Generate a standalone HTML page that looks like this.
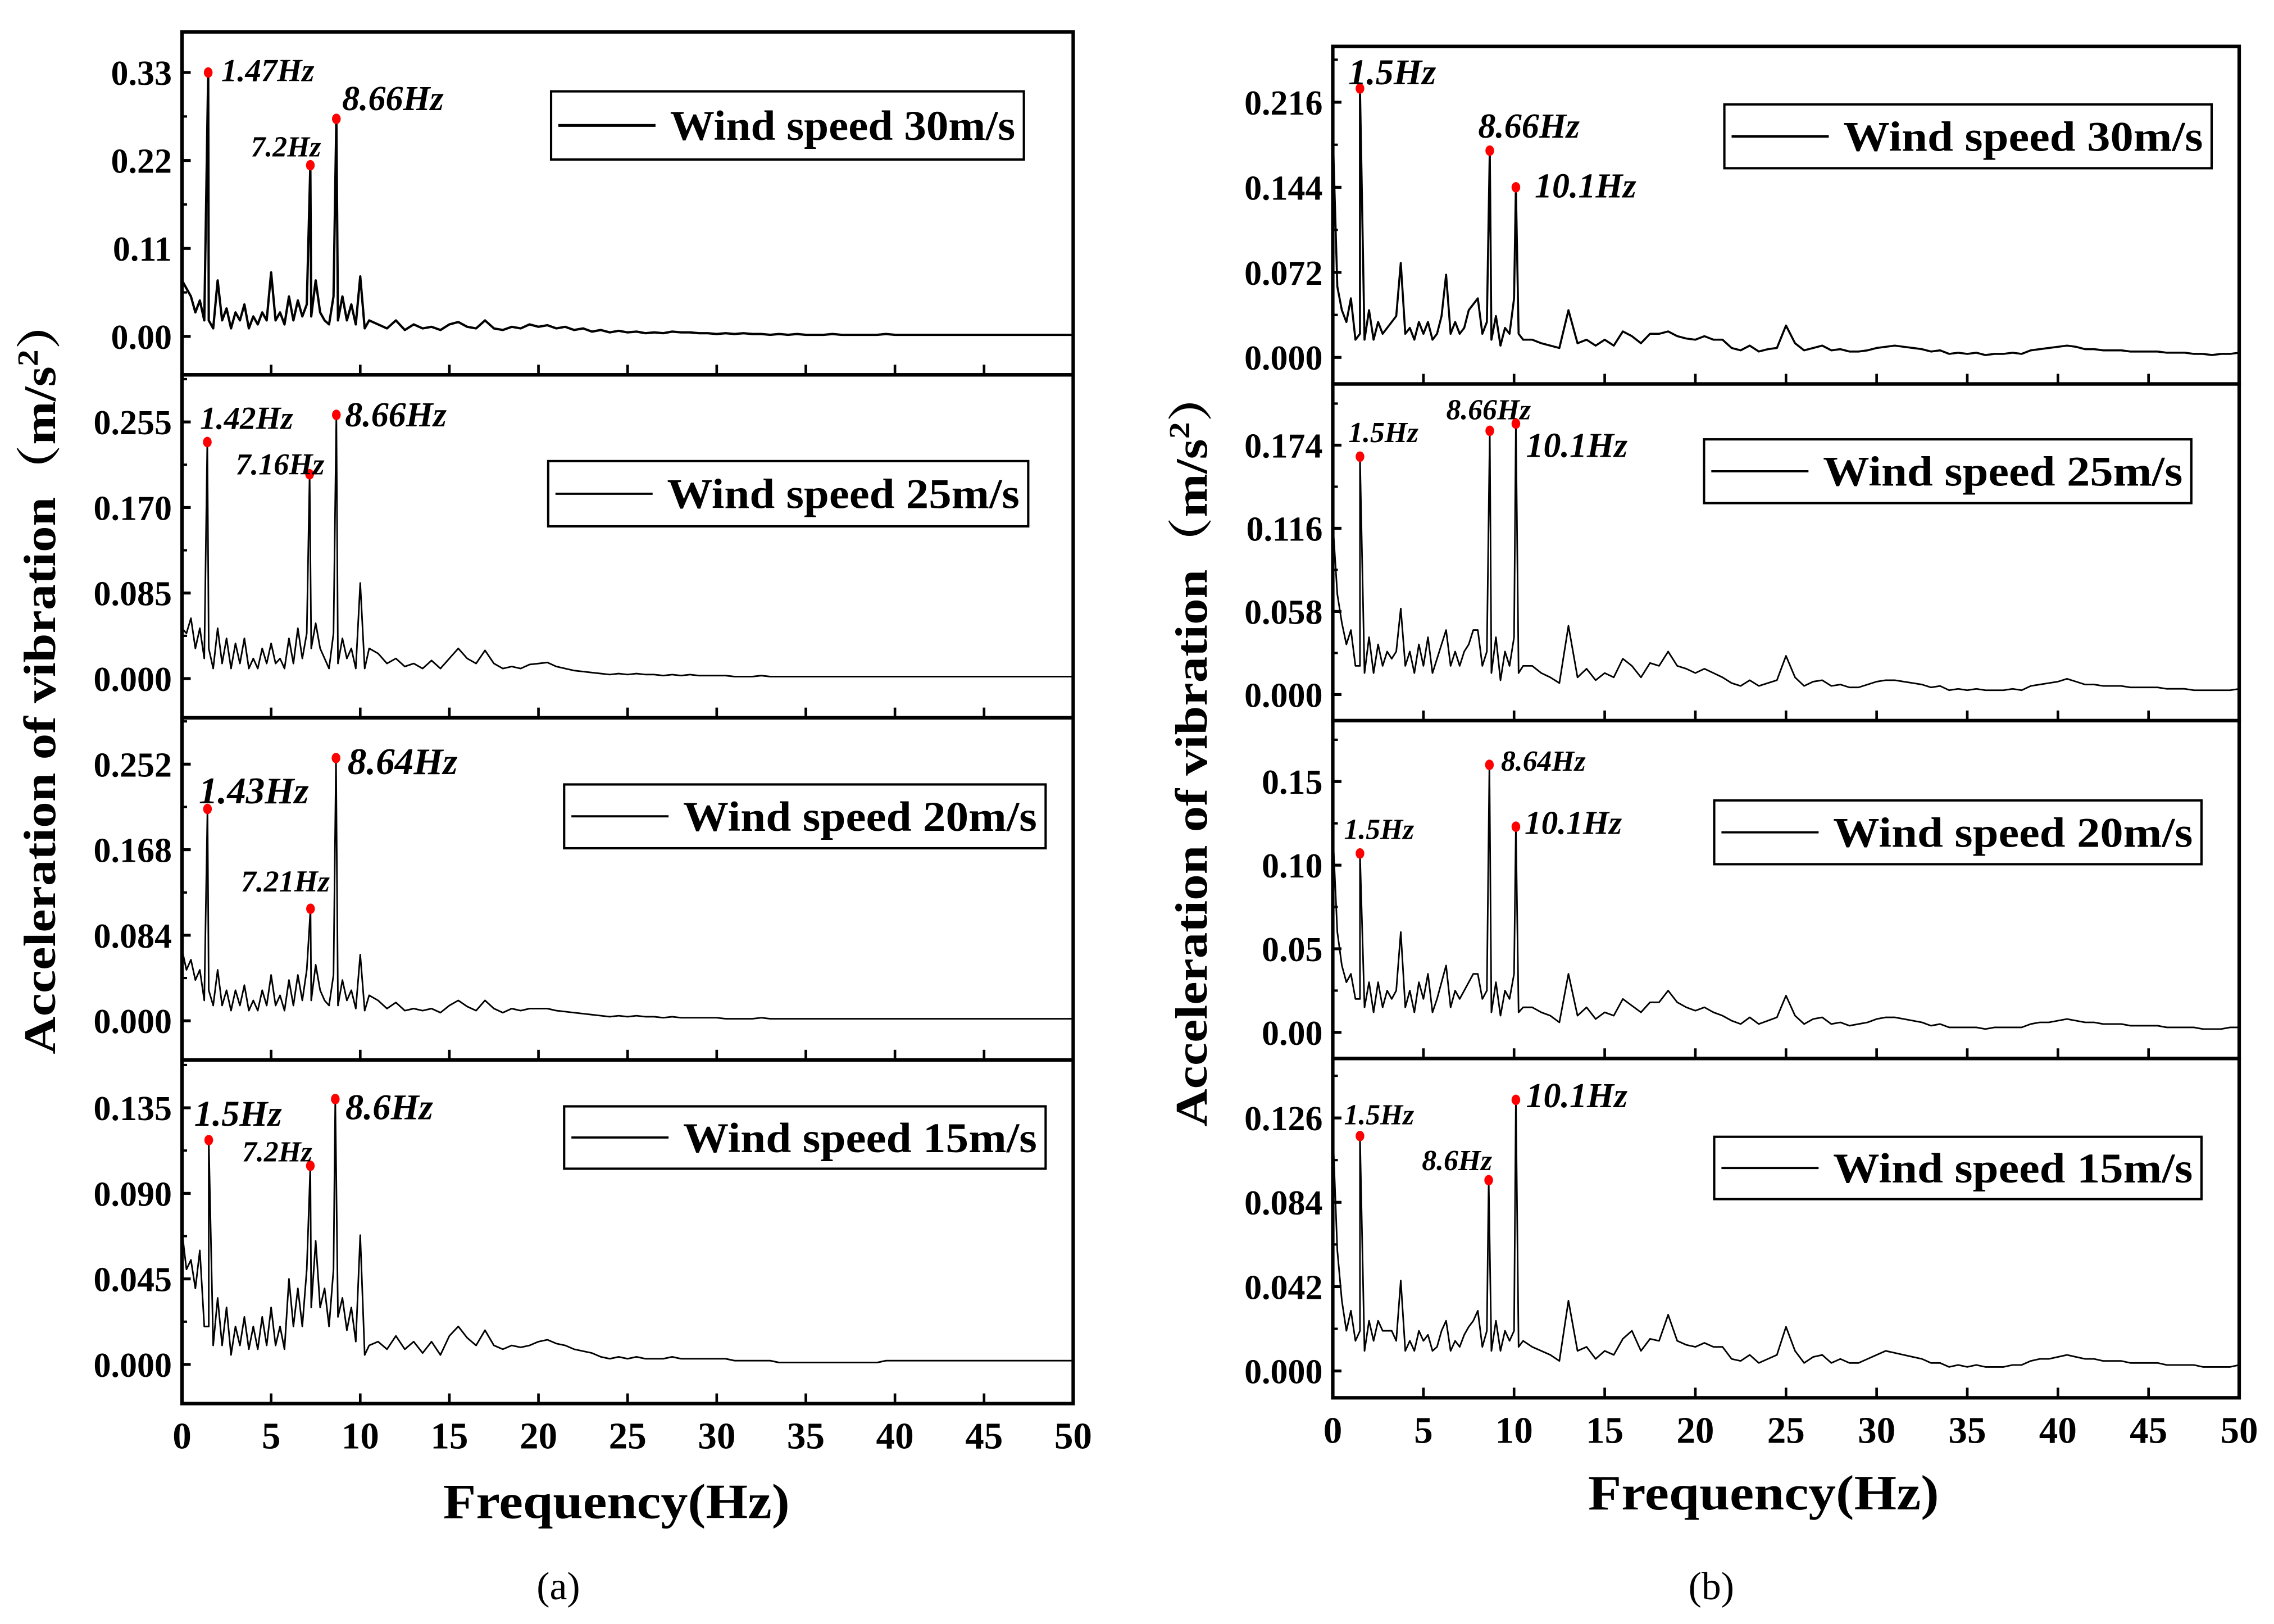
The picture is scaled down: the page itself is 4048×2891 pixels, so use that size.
<!DOCTYPE html>
<html><head><meta charset="utf-8"><style>
html,body{margin:0;padding:0;background:#fff;}
svg{display:block;}
text{font-family:"Liberation Serif","Noto Serif CJK SC",serif;}
</style></head><body>
<svg id="fig" xmlns="http://www.w3.org/2000/svg" width="4048" height="2891" viewBox="0 0 1568 1120" preserveAspectRatio="none">
<rect x="0" y="0" width="1568" height="1120" fill="#fff"/>
<text x="38" y="466" font-size="31" font-weight="bold" text-anchor="middle" transform="rotate(-90 38 466)" textLength="522" lengthAdjust="spacingAndGlyphs">Acceleration of vibration（m/s<tspan dy="-12" font-size="20">2</tspan><tspan dy="12">）</tspan></text>
<text x="832" y="516" font-size="31" font-weight="bold" text-anchor="middle" transform="rotate(-90 832 516)" textLength="522" lengthAdjust="spacingAndGlyphs">Acceleration of vibration（m/s<tspan dy="-12" font-size="20">2</tspan><tspan dy="12">）</tspan></text>
<text x="425" y="1047" font-size="34" font-weight="bold" text-anchor="middle" textLength="239" lengthAdjust="spacingAndGlyphs">Frequency(Hz)</text>
<text x="1216" y="1041" font-size="34" font-weight="bold" text-anchor="middle" textLength="242" lengthAdjust="spacingAndGlyphs">Frequency(Hz)</text>
<text x="385" y="1103" font-size="27" text-anchor="middle">(a)</text>
<text x="1180" y="1103" font-size="27" text-anchor="middle">(b)</text>
</svg>
<script>
// ---- shared frequency grid (Hz) ----
const freqs = [0,0.25,0.5,0.75,1,1.25,1.5,1.75,2,2.25,2.5,2.75,3,3.25,3.5,3.75,4,4.25,4.5,4.75,5,5.25,5.5,5.75,6,6.25,6.5,6.75,7,7.25,7.5,7.75,8,8.25,8.5,8.75,9,9.25,9.5,9.75,10,10.25,10.5,
11,11.5,12,12.5,13,13.5,14,14.5,15,15.5,16,16.5,17,17.5,18,18.5,19,19.5,20,20.5,21,21.5,22,22.5,23,23.5,24,24.5,25,25.5,26,26.5,27,27.5,28,28.5,29,29.5,30,30.5,31,31.5,32,32.5,33,33.5,34,34.5,35,35.5,36,36.5,37,37.5,38,38.5,39,39.5,40,40.5,41,41.5,42,42.5,43,43.5,44,44.5,45,45.5,46,46.5,47,47.5,48,48.5,49,49.5,50];
const xTickLabels = ['0','5','10','15','20','25','30','35','40','45','50'];
const xTickValues = [0,5,10,15,20,25,30,35,40,45,50];

// ---- (a) series ----
const a30 = [0.07,0.06,0.05,0.03,0.045,0.02,0.02,0.01,0.07,0.02,0.035,0.01,0.03,0.02,0.04,0.01,0.025,0.015,0.03,0.02,0.08,0.02,0.03,0.015,0.05,0.02,0.045,0.025,0.04,0.025,0.07,0.03,0.02,0.015,0.05,0.02,0.05,0.02,0.04,0.015,0.075,0.01,0.02,
0.015,0.01,0.02,0.008,0.015,0.01,0.012,0.008,0.015,0.018,0.012,0.01,0.02,0.01,0.008,0.012,0.01,0.015,0.012,0.014,0.01,0.012,0.008,0.01,0.006,0.008,0.005,0.007,0.005,0.006,0.004,0.005,0.004,0.006,0.005,0.005,0.004,0.004,0.003,0.004,0.003,0.004,0.003,0.003,0.002,0.003,0.002,0.003,0.002,0.002,0.002,0.003,0.002,0.002,0.002,0.002,0.002,0.003,0.002,0.002,0.002,0.002,0.002,0.002,0.002,0.002,0.002,0.002,0.002,0.002,0.002,0.002,0.002,0.002,0.002,0.002,0.002,0.002,0.002];
const a25 = [0.05,0.045,0.06,0.03,0.05,0.02,0.03,0.01,0.05,0.015,0.04,0.01,0.035,0.015,0.04,0.01,0.02,0.01,0.03,0.015,0.035,0.015,0.02,0.01,0.04,0.015,0.05,0.02,0.045,0.03,0.055,0.03,0.02,0.01,0.045,0.015,0.04,0.02,0.03,0.01,0.095,0.01,0.03,
0.025,0.015,0.02,0.012,0.015,0.01,0.018,0.01,0.02,0.03,0.02,0.015,0.028,0.015,0.01,0.012,0.01,0.014,0.015,0.016,0.012,0.01,0.008,0.007,0.006,0.005,0.004,0.005,0.004,0.005,0.004,0.004,0.003,0.004,0.003,0.004,0.003,0.003,0.003,0.003,0.002,0.002,0.002,0.003,0.002,0.002,0.002,0.002,0.002,0.002,0.002,0.002,0.002,0.002,0.002,0.002,0.002,0.002,0.002,0.002,0.002,0.002,0.002,0.002,0.002,0.002,0.002,0.002,0.002,0.002,0.002,0.002,0.002,0.002,0.002,0.002,0.002,0.002,0.002];
const a20 = [0.07,0.05,0.06,0.04,0.05,0.02,0.03,0.015,0.05,0.015,0.03,0.01,0.03,0.015,0.035,0.01,0.02,0.01,0.03,0.015,0.045,0.015,0.025,0.01,0.04,0.015,0.045,0.02,0.05,0.02,0.055,0.03,0.02,0.015,0.045,0.015,0.04,0.02,0.03,0.012,0.065,0.01,0.025,
0.02,0.012,0.018,0.01,0.012,0.01,0.012,0.008,0.015,0.02,0.014,0.01,0.02,0.012,0.008,0.012,0.01,0.012,0.012,0.012,0.01,0.009,0.008,0.007,0.006,0.005,0.004,0.005,0.004,0.005,0.004,0.004,0.003,0.004,0.003,0.003,0.003,0.003,0.003,0.002,0.002,0.002,0.002,0.003,0.002,0.002,0.002,0.002,0.002,0.002,0.002,0.002,0.002,0.002,0.002,0.002,0.002,0.002,0.002,0.002,0.002,0.002,0.002,0.002,0.002,0.002,0.002,0.002,0.002,0.002,0.002,0.002,0.002,0.002,0.002,0.002,0.002,0.002,0.002];
const a15 = [0.07,0.05,0.055,0.04,0.06,0.02,0.02,0.01,0.035,0.01,0.03,0.005,0.02,0.01,0.025,0.008,0.02,0.008,0.025,0.01,0.03,0.01,0.02,0.008,0.045,0.02,0.04,0.02,0.05,0.03,0.065,0.03,0.04,0.02,0.05,0.025,0.035,0.018,0.03,0.012,0.068,0.005,0.01,
0.012,0.008,0.015,0.008,0.012,0.006,0.012,0.005,0.015,0.02,0.014,0.01,0.018,0.01,0.008,0.01,0.009,0.01,0.012,0.013,0.011,0.01,0.008,0.007,0.006,0.004,0.003,0.004,0.003,0.004,0.003,0.003,0.003,0.004,0.003,0.003,0.003,0.003,0.003,0.003,0.002,0.002,0.002,0.002,0.002,0.001,0.001,0.001,0.001,0.001,0.001,0.001,0.001,0.001,0.001,0.001,0.001,0.002,0.002,0.002,0.002,0.002,0.002,0.002,0.002,0.002,0.002,0.002,0.002,0.002,0.002,0.002,0.002,0.002,0.002,0.002,0.002,0.002,0.002];
const a30PeakF=[1.47,7.2,8.66], a30PeakV=[0.330,0.214,0.272], a30PeakLab=['1.47Hz','7.2Hz','8.66Hz'];
const a25PeakF=[1.42,7.16,8.66], a25PeakV=[0.235,0.203,0.262], a25PeakLab=['1.42Hz','7.16Hz','8.66Hz'];
const a20PeakF=[1.43,7.21,8.64], a20PeakV=[0.208,0.110,0.258], a20PeakLab=['1.43Hz','7.21Hz','8.64Hz'];
const a15PeakF=[1.5,7.2,8.6], a15PeakV=[0.118,0.1045,0.1396], a15PeakLab=['1.5Hz','7.2Hz','8.6Hz'];
const a30Ticks=['0.00','0.11','0.22','0.33'], a30TickV=[0,0.11,0.22,0.33];
const a25Ticks=['0.000','0.085','0.170','0.255'], a25TickV=[0,0.085,0.17,0.255];
const a20Ticks=['0.000','0.084','0.168','0.252'], a20TickV=[0,0.084,0.168,0.252];
const a15Ticks=['0.000','0.045','0.090','0.135'], a15TickV=[0,0.045,0.09,0.135];

// ---- (b) series ----
const b30 = [0.19,0.06,0.04,0.03,0.05,0.015,0.02,0.015,0.04,0.015,0.03,0.02,0.025,0.03,0.035,0.08,0.02,0.025,0.015,0.03,0.02,0.03,0.015,0.02,0.035,0.07,0.02,0.03,0.02,0.025,0.04,0.045,0.05,0.02,0.03,0.015,0.035,0.01,0.025,0.02,0.05,0.02,0.015,
0.015,0.012,0.01,0.008,0.04,0.012,0.015,0.01,0.015,0.01,0.022,0.018,0.012,0.02,0.02,0.022,0.018,0.016,0.015,0.018,0.015,0.015,0.008,0.006,0.01,0.005,0.007,0.008,0.027,0.012,0.006,0.008,0.01,0.006,0.007,0.005,0.005,0.006,0.008,0.009,0.01,0.009,0.008,0.007,0.005,0.006,0.003,0.004,0.003,0.004,0.002,0.003,0.003,0.004,0.003,0.006,0.007,0.008,0.009,0.01,0.009,0.007,0.007,0.006,0.006,0.006,0.005,0.005,0.005,0.005,0.004,0.004,0.004,0.003,0.003,0.002,0.003,0.003,0.004];
const b25 = [0.12,0.07,0.05,0.035,0.045,0.02,0.02,0.015,0.04,0.015,0.035,0.02,0.03,0.025,0.03,0.06,0.02,0.03,0.015,0.035,0.02,0.04,0.015,0.025,0.035,0.045,0.02,0.03,0.02,0.03,0.035,0.045,0.045,0.02,0.03,0.015,0.04,0.01,0.03,0.02,0.04,0.015,0.02,
0.02,0.015,0.012,0.008,0.048,0.012,0.018,0.01,0.015,0.012,0.025,0.02,0.012,0.022,0.02,0.03,0.02,0.018,0.015,0.018,0.015,0.012,0.008,0.006,0.01,0.006,0.008,0.01,0.027,0.012,0.006,0.009,0.01,0.006,0.007,0.005,0.005,0.007,0.009,0.01,0.01,0.009,0.008,0.007,0.005,0.006,0.003,0.004,0.003,0.004,0.003,0.003,0.003,0.004,0.003,0.006,0.007,0.008,0.009,0.011,0.009,0.007,0.007,0.006,0.006,0.006,0.005,0.005,0.005,0.005,0.004,0.004,0.004,0.003,0.003,0.003,0.003,0.003,0.004];
const b20 = [0.12,0.06,0.04,0.03,0.035,0.02,0.02,0.015,0.03,0.012,0.03,0.015,0.025,0.02,0.025,0.06,0.015,0.025,0.012,0.03,0.02,0.035,0.012,0.02,0.03,0.04,0.015,0.025,0.02,0.025,0.03,0.035,0.035,0.02,0.025,0.012,0.03,0.01,0.025,0.02,0.035,0.012,0.015,
0.015,0.012,0.01,0.006,0.035,0.01,0.015,0.008,0.012,0.01,0.02,0.016,0.012,0.018,0.018,0.025,0.018,0.015,0.013,0.015,0.012,0.01,0.007,0.005,0.009,0.005,0.007,0.009,0.022,0.01,0.005,0.008,0.009,0.005,0.006,0.004,0.005,0.006,0.008,0.009,0.009,0.008,0.007,0.006,0.004,0.005,0.003,0.003,0.003,0.003,0.002,0.003,0.003,0.003,0.003,0.005,0.006,0.006,0.007,0.008,0.007,0.006,0.006,0.005,0.005,0.005,0.004,0.004,0.004,0.004,0.003,0.003,0.003,0.003,0.002,0.002,0.002,0.003,0.003];
const b15 = [0.12,0.06,0.035,0.02,0.03,0.015,0.02,0.01,0.025,0.015,0.025,0.02,0.02,0.02,0.015,0.045,0.01,0.015,0.01,0.02,0.015,0.018,0.01,0.012,0.02,0.025,0.01,0.015,0.012,0.018,0.022,0.025,0.03,0.012,0.02,0.01,0.025,0.01,0.02,0.015,0.02,0.012,0.015,
0.012,0.01,0.008,0.005,0.035,0.01,0.012,0.006,0.01,0.008,0.016,0.02,0.01,0.016,0.015,0.028,0.015,0.013,0.012,0.014,0.012,0.012,0.006,0.005,0.008,0.004,0.006,0.008,0.022,0.01,0.004,0.007,0.008,0.004,0.006,0.004,0.004,0.006,0.008,0.01,0.009,0.008,0.007,0.006,0.004,0.004,0.002,0.003,0.002,0.003,0.002,0.002,0.002,0.003,0.003,0.005,0.006,0.006,0.007,0.008,0.007,0.006,0.006,0.005,0.005,0.005,0.004,0.004,0.004,0.004,0.003,0.003,0.003,0.003,0.002,0.002,0.002,0.002,0.003];
const b30PeakF=[1.5,8.66,10.1], b30PeakV=[0.2276,0.175,0.144], b30PeakLab=['1.5Hz','8.66Hz','10.1Hz'];
const b25PeakF=[1.5,8.66,10.1], b25PeakV=[0.166,0.184,0.189], b25PeakLab=['1.5Hz','8.66Hz','10.1Hz'];
const b20PeakF=[1.5,8.64,10.1], b20PeakV=[0.107,0.160,0.123], b20PeakLab=['1.5Hz','8.64Hz','10.1Hz'];
const b15PeakF=[1.5,8.6,10.1], b15PeakV=[0.117,0.095,0.135], b15PeakLab=['1.5Hz','8.6Hz','10.1Hz'];
const b30Ticks=['0.000','0.072','0.144','0.216'], b30TickV=[0,0.072,0.144,0.216];
const b25Ticks=['0.000','0.058','0.116','0.174'], b25TickV=[0,0.058,0.116,0.174];
const b20Ticks=['0.00','0.05','0.10','0.15'], b20TickV=[0,0.05,0.1,0.15];
const b15Ticks=['0.000','0.042','0.084','0.126'], b15TickV=[0,0.042,0.084,0.126];
const legendLabels=['Wind speed 30m/s','Wind speed 25m/s','Wind speed 20m/s','Wind speed 15m/s'];

// ---- layout (positions / styles only) ----
const panels = [
 {id:'a30',x0:125.5,x1:740,top:22,bot:258.5,zero:232,tTop:50,vals:a30,pf:a30PeakF,pv:a30PeakV,pl:a30PeakLab,tl:a30Ticks,tv:a30TickV,leg:0,lw:1.6,
  box:[380,63,326,47],lab:[[9,6,22],[-41,-6,20],[4,-6,24]]},
 {id:'a25',x0:125.5,x1:740,top:258.5,bot:495,zero:468,tTop:291,vals:a25,pf:a25PeakF,pv:a25PeakV,pl:a25PeakLab,tl:a25Ticks,tv:a25TickV,leg:1,lw:1.1,
  box:[378,318,331,45],lab:[[-5,-9,22],[-51,0,21],[6,8,24]]},
 {id:'a20',x0:125.5,x1:740,top:495,bot:731,zero:704,tTop:527,vals:a20,pf:a20PeakF,pv:a20PeakV,pl:a20PeakLab,tl:a20Ticks,tv:a20TickV,leg:2,lw:1.1,
  box:[389,541,332,44],lab:[[-6,-4,26],[-48,-12,21],[8,11,26]]},
 {id:'a15',x0:125.5,x1:740,top:731,bot:968,zero:941,tTop:764,vals:a15,pf:a15PeakF,pv:a15PeakV,pl:a15PeakLab,tl:a15Ticks,tv:a15TickV,leg:3,lw:1.1,
  box:[389,763,332,43],lab:[[-10,-10,25],[-47,-3,20],[7,14,25]]},
 {id:'b30',x0:919,x1:1544,top:32,bot:264.8,zero:246.5,tTop:70.5,vals:b30,pf:b30PeakF,pv:b30PeakV,pl:b30PeakLab,tl:b30Ticks,tv:b30TickV,leg:0,lw:1.4,
  box:[1189,72,336,44],lab:[[-8,-3,25],[-8,-9,24],[13,7,24]]},
 {id:'b25',x0:919,x1:1544,top:264.8,bot:497,zero:479,tTop:307,vals:b25,pf:b25PeakF,pv:b25PeakV,pl:b25PeakLab,tl:b25Ticks,tv:b25TickV,leg:1,lw:1.1,
  box:[1175,303,336,44],lab:[[-8,-10,20],[-30,-8,20],[7,23,24]]},
 {id:'b20',x0:919,x1:1544,top:497,bot:730,zero:712,tTop:539,vals:b20,pf:b20PeakF,pv:b20PeakV,pl:b20PeakLab,tl:b20Ticks,tv:b20TickV,leg:2,lw:1.1,
  box:[1182,552,336,44],lab:[[-11,-10,20],[8,4,20],[6,5,23]]},
 {id:'b15',x0:919,x1:1544,top:730,bot:964,zero:945.5,tTop:771,vals:b15,pf:b15PeakF,pv:b15PeakV,pl:b15PeakLab,tl:b15Ticks,tv:b15TickV,leg:3,lw:1.1,
  box:[1182,784,336,43],lab:[[-11,-8,20],[-46,-7,20],[7,5,24]]}
];
const NS='http://www.w3.org/2000/svg';
const svg=document.getElementById('fig');
function mk(tag,attrs){const e=document.createElementNS(NS,tag);for(const k in attrs)e.setAttribute(k,attrs[k]);return e;}

panels.forEach(function(p){
  const g=mk('g',{});
  
  
  svg.appendChild(g);
  const tMax=p.tv[p.tv.length-1];
  const xs=function(f){return p.x0+(f/50)*(p.x1-p.x0);};
  const ys=function(v){return p.zero-v*(p.zero-p.tTop)/tMax;};
  // merge base series with peak points
  const pts=[];
  const n=Math.min(freqs.length,p.vals.length);
  for(let i=0;i<n;i++)pts.push([freqs[i],p.vals[i]]);
  for(let j=0;j<p.pf.length;j++)pts.push([p.pf[j],p.pv[j]]);
  pts.sort(function(a,b){return a[0]-b[0];});
  const line=mk('polyline',{points:pts.map(function(q){return xs(q[0]).toFixed(2)+','+ys(q[1]).toFixed(2);}).join(' '),fill:'none',stroke:'#000','stroke-width':p.lw,'stroke-linejoin':'round'});
  
  
  g.appendChild(line);
  // frame
  const fr=mk('rect',{x:p.x0,y:p.top,width:p.x1-p.x0,height:p.bot-p.top,fill:'none',stroke:'#000','stroke-width':2.4});
  
  
  g.appendChild(fr);
  // y ticks
  for(let k=0;k<p.tv.length;k++){
    const y=ys(p.tv[k]);
    const t=mk('line',{x1:p.x0,x2:p.x0+6,y1:y,y2:y,stroke:'#000','stroke-width':2});
    
    
    g.appendChild(t);
    const lb=mk('text',{x:p.x0-7,y:y+8.5,'font-size':24,'font-weight':'bold','text-anchor':'end'});
    
    
    lb.textContent=p.tl[k];
    g.appendChild(lb);
    const ym=ys(p.tv[k]+(p.tv[1]-p.tv[0])/2);
    if(ym>p.top+2){
      const m=mk('line',{x1:p.x0,x2:p.x0+3.5,y1:ym,y2:ym,stroke:'#000','stroke-width':1.6});
      
      
      g.appendChild(m);
    }
  }
  // x ticks
  for(let k=1;k<xTickValues.length-1;k++){
    const x=xs(xTickValues[k]);
    const t=mk('line',{x1:x,x2:x,y1:p.bot,y2:p.bot-7,stroke:'#000','stroke-width':1.8});
    
    
    g.appendChild(t);
  }
  // peaks: dots + labels
  for(let j=0;j<p.pf.length;j++){
    const cx=xs(p.pf[j]), cy=ys(p.pv[j]);
    const d=mk('ellipse',{cx:cx,cy:cy,rx:3,ry:3.6,fill:'#f00'});
    
    
    g.appendChild(d);
    const L=p.lab[j];
    const tx=mk('text',{x:cx+L[0],y:cy+L[1],'font-size':L[2],'font-weight':'bold','font-style':'italic'});
    
    
    tx.textContent=p.pl[j];
    g.appendChild(tx);
  }
  // legend
  const b=p.box;
  const lg=mk('g',{});
  
  
  g.appendChild(lg);
  const br=mk('rect',{x:b[0],y:b[1],width:b[2],height:b[3],fill:'#fff',stroke:'#000','stroke-width':1.6});
  
  
  lg.appendChild(br);
  const cy=b[1]+b[3]/2;
  const ls=mk('line',{x1:b[0]+5,x2:b[0]+72,y1:cy,y2:cy,stroke:'#000','stroke-width':p.lw+0.4});
  
  
  lg.appendChild(ls);
  const lt=mk('text',{x:b[0]+82,y:cy+10,'font-size':29,'font-weight':'bold',textLength:b[2]-88,lengthAdjust:'spacingAndGlyphs'});
  
  
  lt.textContent=legendLabels[p.leg];
  lg.appendChild(lt);
  // x tick labels for bottom panels
  if(p.id==='a15'||p.id==='b15'){
    for(let k=0;k<xTickValues.length;k++){
      const xl=mk('text',{x:xs(xTickValues[k]),y:p.bot+31,'font-size':26,'font-weight':'bold','text-anchor':'middle'});
      
      
      xl.textContent=xTickLabels[k];
      svg.appendChild(xl);
    }
  }
});
</script>
</body></html>
